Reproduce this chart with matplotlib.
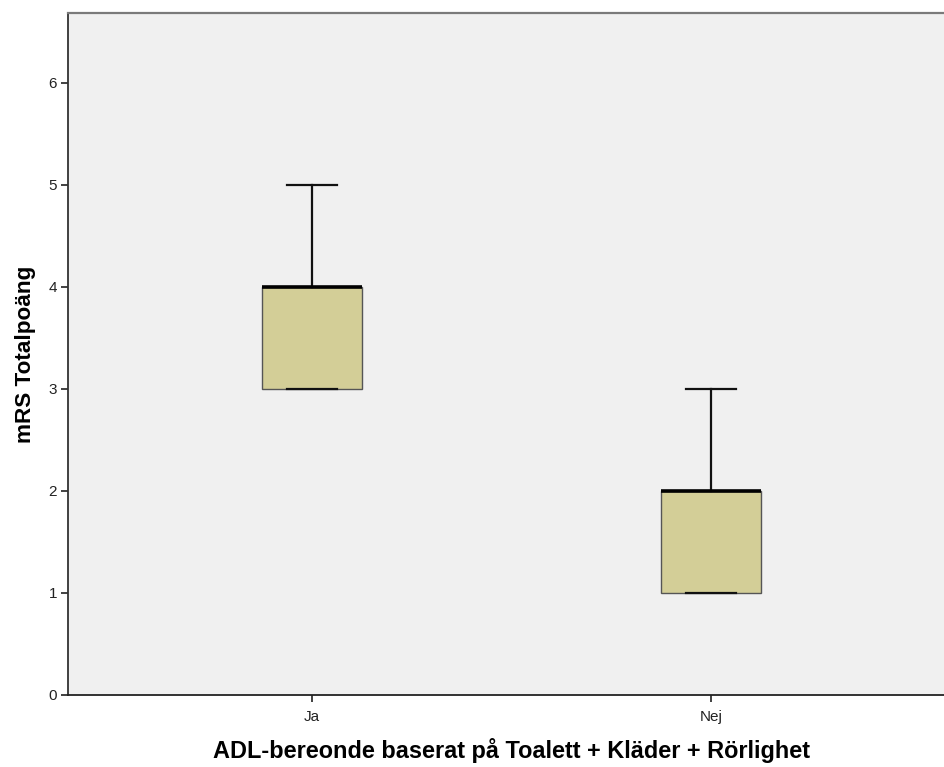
import matplotlib
matplotlib.use("Agg")
import matplotlib.pyplot as plt

plt.rcParams['font.family'] = ['Liberation Sans', 'DejaVu Sans']

groups = ["Ja", "Nej"]
whislo = [3, 1]
q1 = [3, 1]
med = [4, 2]
q3 = [4, 2]
whishi = [5, 3]

stats = []
for i in range(len(groups)):
    stats.append({"label": groups[i], "whislo": whislo[i], "q1": q1[i], "med": med[i],
                  "q3": q3[i], "whishi": whishi[i], "fliers": []})

fig = plt.figure(figsize=(9.45, 7.67), dpi=100)
# axes runs slightly past the right edge of the figure
ax = fig.add_axes([0.0720, 0.0939, 0.938, 0.8885])
ax.set_facecolor('#f0f0f0')

ax.bxp(stats, positions=[0, 1], widths=0.25, patch_artist=True, showfliers=False,
       boxprops=dict(facecolor='#d3ce97', edgecolor='#555555', linewidth=1.0),
       medianprops=dict(color='black', linewidth=2.6, solid_capstyle='butt'),
       whiskerprops=dict(color='#111111', linewidth=1.6),
       capprops=dict(color='#111111', linewidth=1.6),
       capwidths=0.125)

ax.set_xlim(-0.611, 1.611)
ax.set_ylim(0, 6.68)
ax.set_yticks([0, 1, 2, 3, 4, 5, 6])
ax.set_xticks([0, 1])
ax.set_xticklabels(groups)
ax.tick_params(direction='out', length=5, width=1.3, color='#333333', labelsize=11, labelcolor='#222222')
ax.tick_params(axis='x', pad=6)
ax.tick_params(axis='y', pad=3)

ax.spines['left'].set_color('#333333')
ax.spines['left'].set_linewidth(1.3)
ax.spines['bottom'].set_color('#222222')
ax.spines['bottom'].set_linewidth(1.3)
ax.spines['top'].set_color('#7a7a7a')
ax.spines['top'].set_linewidth(1.6)
ax.spines['right'].set_visible(False)

ax.set_ylabel('mRS Totalpoäng', fontsize=16.2, fontweight='bold', labelpad=9)
ax.set_xlabel('ADL-bereonde baserat på Toalett + Kläder + Rörlighet', fontsize=16.9,
              fontweight='bold', labelpad=10)

fig.savefig('out.png', dpi=100)
